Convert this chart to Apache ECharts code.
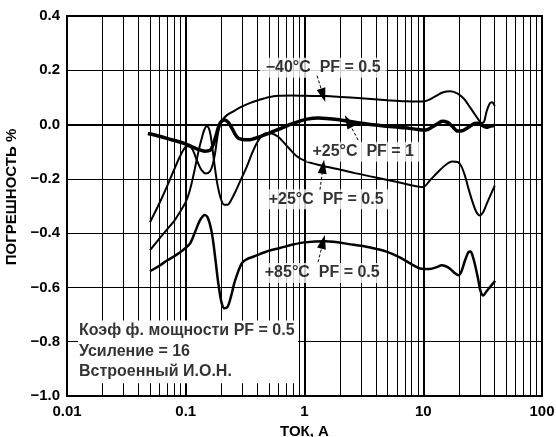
<!DOCTYPE html>
<html><head><meta charset="utf-8">
<script src="https://cdn.jsdelivr.net/npm/echarts@6/dist/echarts.min.js"></script>
<style>html,body{margin:0;padding:0;background:#fff}#c{width:556px;height:437px}</style>
</head><body><div id="c"></div>
<script>
// ---- data ----
const xTickLabels = ['0.01', '0.1', '1', '10', '100'];
const yTickValues = [-1.0, -0.8, -0.6, -0.4, -0.2, 0.0, 0.2, 0.4];
const minorX = [0.02,0.03,0.04,0.05,0.06,0.07,0.08,0.09,
                0.2,0.3,0.4,0.5,0.6,0.7,0.8,0.9,
                2,3,4,5,6,7,8,9,
                20,30,40,50,60,70,80,90];

// -40°C PF = 0.5
const curveM40 = [[0.05,-0.36],[0.06,-0.29],[0.07,-0.225],[0.08,-0.165],[0.09,-0.115],[0.1,-0.082],[0.107,-0.08],[0.115,-0.095],[0.125,-0.135],[0.136,-0.168],[0.148,-0.18],[0.16,-0.172],[0.168,-0.15],[0.176,-0.11],[0.182,-0.065],[0.188,-0.026],[0.195,0.0],[0.205,0.018],[0.22,0.033],[0.25,0.048],[0.29,0.064],[0.35,0.08],[0.41,0.09],[0.5,0.101],[0.6,0.106],[0.8,0.107],[1.0,0.106],[1.5,0.105],[2,0.102],[3,0.097],[5,0.09],[7,0.086],[10,0.085],[11,0.09],[12.5,0.103],[14.5,0.118],[17,0.123],[19.5,0.114],[22,0.095],[24,0.072],[26.5,0.045],[29,0.02],[31,0.006],[32.5,0.01],[34,0.045],[36,0.075],[38,0.082],[40,0.068]];
// +25°C PF = 1
const curveP25PF1 = [[0.048,-0.033],[0.06,-0.043],[0.075,-0.055],[0.0925,-0.066],[0.112,-0.081],[0.128,-0.092],[0.145,-0.098],[0.16,-0.095],[0.17,-0.075],[0.18,-0.04],[0.19,-0.005],[0.2,0.012],[0.214,0.017],[0.228,0.008],[0.244,-0.012],[0.26,-0.035],[0.277,-0.05],[0.3,-0.055],[0.337,-0.056],[0.41,-0.046],[0.5,-0.032],[0.6,-0.018],[0.75,0.0],[0.9,0.012],[1.05,0.02],[1.3,0.024],[2,0.017],[3,0.005],[4.5,-0.004],[7,-0.012],[9,-0.018],[10.5,-0.02],[12,-0.008],[13.5,0.006],[14.5,0.012],[16,0.008],[17.5,-0.006],[19.5,-0.024],[21.5,-0.022],[24,-0.01],[27,0.004],[29,0.005],[31,-0.002],[34,-0.01],[37,-0.005],[40,-0.003]];
// +25°C PF = 0.5
const curveP25PF05 = [[0.05,-0.463],[0.06,-0.42],[0.07,-0.385],[0.08,-0.355],[0.09,-0.32],[0.1,-0.285],[0.107,-0.25],[0.113,-0.21],[0.119,-0.165],[0.125,-0.12],[0.131,-0.08],[0.137,-0.048],[0.143,-0.02],[0.15,-0.006],[0.156,-0.012],[0.162,-0.04],[0.168,-0.09],[0.175,-0.15],[0.183,-0.21],[0.195,-0.265],[0.21,-0.295],[0.225,-0.295],[0.24,-0.28],[0.27,-0.235],[0.29,-0.205],[0.33,-0.15],[0.36,-0.108],[0.4,-0.065],[0.44,-0.04],[0.48,-0.032],[0.53,-0.033],[0.6,-0.045],[0.65,-0.06],[0.75,-0.09],[0.85,-0.115],[1.0,-0.133],[1.3,-0.148],[1.9,-0.164],[2.6,-0.178],[3.5,-0.19],[5,-0.204],[7,-0.218],[9,-0.228],[10,-0.23],[11.4,-0.205],[13.5,-0.172],[15.5,-0.148],[17.5,-0.136],[19.5,-0.138],[21,-0.155],[22.5,-0.19],[24,-0.235],[26,-0.285],[28,-0.322],[30,-0.335],[32,-0.322],[34,-0.295],[37,-0.258],[40,-0.225]];
// +85°C PF = 0.5
const curveP85 = [[0.05,-0.54],[0.06,-0.52],[0.07,-0.5],[0.08,-0.485],[0.095,-0.462],[0.109,-0.437],[0.12,-0.395],[0.132,-0.352],[0.145,-0.333],[0.154,-0.345],[0.166,-0.4],[0.177,-0.49],[0.188,-0.585],[0.2,-0.655],[0.212,-0.677],[0.225,-0.672],[0.24,-0.635],[0.26,-0.575],[0.296,-0.511],[0.33,-0.495],[0.37,-0.487],[0.5,-0.465],[0.62,-0.455],[0.8,-0.442],[1.0,-0.434],[1.5,-0.43],[2.6,-0.443],[3.5,-0.452],[4.9,-0.468],[6.4,-0.49],[8,-0.515],[9.4,-0.53],[11.4,-0.532],[13,-0.525],[14.3,-0.518],[15.5,-0.522],[16.9,-0.532],[18.5,-0.548],[19.8,-0.555],[21,-0.54],[22.5,-0.5],[24,-0.47],[25,-0.468],[26.3,-0.49],[27.4,-0.52],[29,-0.57],[30.2,-0.61],[32,-0.63],[34,-0.615],[36.6,-0.598],[40.3,-0.576]];

// curve labels: text, anchor [x, y]
const curveLabelText = ['\u221240°C  PF = 0.5', '+25°C  PF = 1', '+25°C  PF = 0.5', '+85°C  PF = 0.5'];
const curveLabelPos = [[1.435, 0.209], [3.12, -0.10], [1.52, -0.275], [1.41, -0.547]];
// arrows: [from, to]
const arrowFrom = [[1.276, 0.18], [2.83, -0.057], [1.35, -0.24], [1.30, -0.507]];
const arrowTo = [[1.435, 0.108], [2.33, 0.012], [1.435, -0.155], [1.435, -0.432]];
// note box
const noteLines = ['Коэф ф. мощности PF = 0.5', 'Усиление = 16', 'Встроенный И.О.Н.'];
const notePos = [[0.01262, -0.758], [0.01262, -0.835], [0.01262, -0.911]];
const noteBox = [[0.01238, -0.722], [0.883, -0.953]];

// ---- chart ----
const FONT = "'Liberation Sans', Arial, Helvetica, sans-serif";
const chart = echarts.init(document.getElementById('c'), null, {renderer: 'canvas'});
function curve(data, w) {
  return {type: 'line', data: data, showSymbol: false, smooth: 0.3, z: 3,
    lineStyle: {color: '#000', width: w}, silent: true};
}
chart.setOption({
  animation: false,
  backgroundColor: '#fff',
  grid: {left: 67, right: 14, top: 16, bottom: 41, show: true, borderColor: '#000', borderWidth: 2,
    backgroundColor: 'transparent', containLabel: false, outerBoundsMode: 'none'},
  xAxis: {
    type: 'log', logBase: 10, min: 0.01, max: 100,
    name: 'ТОК, А', nameLocation: 'middle', nameGap: 24,
    nameTextStyle: {color: '#000', fontFamily: FONT, fontWeight: 'bold', fontSize: 15},
    axisLine: {show: true, lineStyle: {color: '#000', width: 2}},
    axisTick: {show: false},
    axisLabel: {color: '#000', fontFamily: FONT, fontWeight: 'bold', fontSize: 15, margin: 8,
      formatter: function (v) { const i = Math.round(Math.log10(v)) + 2; return xTickLabels[i]; }},
    splitLine: {show: true, lineStyle: {color: '#000', width: 2}}
  },
  yAxis: {
    type: 'value', min: yTickValues[0], max: yTickValues[yTickValues.length - 1], interval: 0.2,
    name: 'ПОГРЕШНОСТЬ %', nameLocation: 'middle', nameGap: 43, nameRotate: 90,
    nameTextStyle: {color: '#000', fontFamily: FONT, fontWeight: 'bold', fontSize: 15, padding: [0, 0, 0, 18]},
    axisLine: {show: true, lineStyle: {color: '#000', width: 2}},
    axisTick: {show: false},
    axisLabel: {color: '#000', fontFamily: FONT, fontWeight: 'bold', fontSize: 15, margin: 7,
      formatter: function (v) { return (v < -1e-9 ? '\u2212' : '') + Math.abs(v).toFixed(1); }},
    splitLine: {show: true, lineStyle: {color: '#000', width: 1}}
  },
  series: [
    {type: 'line', data: [], z: 1, silent: true,
      markLine: {z: 1, silent: true, symbol: ['none', 'none'], label: {show: false},
        lineStyle: {color: '#000', width: 1, type: 'solid'},
        data: minorX.map(v => ({xAxis: v}))}},
    {type: 'line', data: [], z: 2, silent: true,
      markArea: {z: 2, silent: true, itemStyle: {color: '#fff', opacity: 1}, label: {show: false},
        data: [[{coord: noteBox[0]}, {coord: noteBox[1]}]]}},
    curve(curveM40, 2),
    curve(curveP25PF1, 3.5),
    curve(curveP25PF05, 2),
    curve(curveP85, 2.5),
    {type: 'line', data: [], z: 6, silent: true,
      markLine: {z: 6, silent: true, symbol: ['none', 'triangle'], symbolSize: [9, 14], label: {show: false},
        lineStyle: {color: '#000', width: 1, type: [3, 2]},
        data: arrowFrom.map((f, i) => [{coord: f}, {coord: arrowTo[i]}])}},
    {type: 'scatter', z: 5, silent: true, symbolSize: 0,
      data: curveLabelPos.map((p, i) => ({value: p, name: curveLabelText[i]})),
      label: {show: true, position: 'inside', formatter: '{b}', color: '#000', fontFamily: FONT,
        fontWeight: 'bold', fontSize: 16, backgroundColor: '#fff', padding: [2, 6]}},
    {type: 'scatter', z: 5, silent: true, symbolSize: 0,
      data: notePos.map((p, i) => ({value: p, name: noteLines[i]})),
      label: {show: true, position: 'right', distance: 0, formatter: '{b}', color: '#000', fontFamily: FONT,
        fontWeight: 'bold', fontSize: 16}}
  ]
});
</script></body></html>
